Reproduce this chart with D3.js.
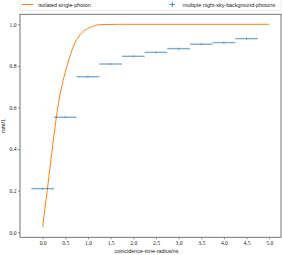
<!DOCTYPE html>
<html>
<head>
<meta charset="utf-8">
<script src="https://cdn.jsdelivr.net/npm/d3@7"></script>
<style>
  body { margin: 0; background: #fff; }
  .tick text { font-family: "Liberation Serif", serif; font-size: 5.6px; fill: #222; }
  .lbl { font-family: "Liberation Sans", "DejaVu Sans", sans-serif; font-size: 5.4px; fill: #222; }
</style>
</head>
<body>
<script>
// values
const nsbRadius = [0, 0.5, 1.0, 1.5, 2.0, 2.5, 3.0, 3.5, 4.0, 4.5];
const nsbRate = [0.21, 0.553, 0.748, 0.809, 0.846, 0.865, 0.883, 0.904, 0.912, 0.931];
const nsbHalfWidth = [0.25, 0.25, 0.25, 0.25, 0.25, 0.25, 0.25, 0.25, 0.25, 0.25];

const singleRadius = [0, 0.05, 0.1, 0.2, 0.3, 0.4, 0.5, 0.59, 0.71, 0.86, 1.0, 1.1, 1.22, 1.4, 1.7, 2.5, 5.0];
const singleRate = [0.024, 0.115, 0.2, 0.38, 0.55, 0.68, 0.77, 0.838, 0.91, 0.958, 0.98, 0.99, 0.997, 0.999, 1.0, 1.0, 1.0];

const xTicks = [0, 0.5, 1, 1.5, 2, 2.5, 3, 3.5, 4, 4.5, 5];
const yTicks = [0, 0.2, 0.4, 0.6, 0.8, 1.0];

const width = 282, height = 255;
const margin = { top: 14.3, right: 1, bottom: 17.7, left: 20 };

const svg = d3.select('body').append('svg')
  .attr('width', width)
  .attr('height', height);

const x = d3.scaleLinear().domain([-0.5, 5.26]).range([margin.left, width - margin.right]);
const y = d3.scaleLinear().domain([-0.024, 1.048]).range([height - margin.bottom, margin.top]);

// axes
const xAxis = svg.append('g')
  .attr('transform', `translate(0, ${height - margin.bottom})`)
  .call(d3.axisBottom(x).tickValues(xTicks).tickFormat(d3.format('.1f')).tickSize(2).tickPadding(1.5));
const yAxis = svg.append('g')
  .attr('transform', `translate(${margin.left}, 0)`)
  .call(d3.axisLeft(y).tickValues(yTicks).tickFormat(d3.format('.1f')).tickSize(2).tickPadding(1.5));
[xAxis, yAxis].forEach(a => {
  a.select('.domain').remove();
  a.selectAll('.tick line').attr('stroke', '#444').attr('stroke-width', 0.6);
});

// frame
svg.append('rect')
  .attr('x', margin.left).attr('y', margin.top)
  .attr('width', width - margin.right - margin.left)
  .attr('height', height - margin.bottom - margin.top)
  .attr('fill', 'none').attr('stroke', '#666').attr('stroke-width', 0.9);

// single photon curve
const line = d3.line()
  .x((d, i) => x(singleRadius[i]))
  .y(d => y(d))
  .curve(d3.curveMonotoneX);
svg.append('path')
  .attr('d', line(singleRate))
  .attr('fill', 'none')
  .attr('stroke', '#ff7f0e')
  .attr('stroke-width', 1);

// NSB error bars
const bars = svg.append('g');
bars.selectAll('.xerr')
  .data(nsbRate)
  .enter()
  .append('line')
  .attr('class', 'xerr')
  .attr('x1', (d, i) => x(nsbRadius[i] - nsbHalfWidth[i]))
  .attr('x2', (d, i) => x(nsbRadius[i] + nsbHalfWidth[i]))
  .attr('y1', d => y(d))
  .attr('y2', d => y(d))
  .attr('stroke', '#1f77b4')
  .attr('stroke-opacity', 0.6)
  .attr('stroke-width', 1.4);
bars.selectAll('.mark')
  .data(nsbRate)
  .enter()
  .append('line')
  .attr('class', 'mark')
  .attr('x1', (d, i) => x(nsbRadius[i]))
  .attr('x2', (d, i) => x(nsbRadius[i]))
  .attr('y1', d => y(d) - 1)
  .attr('y2', d => y(d) + 1)
  .attr('stroke', '#1f77b4')
  .attr('stroke-width', 0.6);

// axis labels
svg.append('text')
  .attr('class', 'lbl')
  .attr('x', (margin.left + width - margin.right) / 2 - 4)
  .attr('y', 253)
  .attr('text-anchor', 'middle')
  .text('coincidence-time-radius/ns');
svg.append('text')
  .attr('class', 'lbl')
  .attr('transform', `translate(5, ${(margin.top + height - margin.bottom) / 2}) rotate(-90)`)
  .attr('text-anchor', 'middle')
  .text('rate/1');

// legend
const legend = svg.append('g');
legend.append('rect')
  .attr('x', margin.left).attr('y', -1)
  .attr('width', width - margin.right - margin.left).attr('height', 11.5)
  .attr('rx', 1.5)
  .attr('fill', '#fff').attr('stroke', '#ddd').attr('stroke-width', 0.6);
legend.append('line')
  .attr('x1', 21.7).attr('x2', 33.3).attr('y1', 4.5).attr('y2', 4.5)
  .attr('stroke', '#ff7f0e').attr('stroke-width', 1);
legend.append('text')
  .attr('class', 'lbl')
  .attr('x', 38.3).attr('y', 6.5)
  .text('isolated single-photon');
legend.append('line')
  .attr('x1', 169.5).attr('x2', 175).attr('y1', 4.5).attr('y2', 4.5)
  .attr('stroke', '#1f77b4').attr('stroke-width', 0.8);
legend.append('line')
  .attr('x1', 172.3).attr('x2', 172.3).attr('y1', 1.8).attr('y2', 7.2)
  .attr('stroke', '#1f77b4').attr('stroke-width', 0.8);
legend.append('text')
  .attr('class', 'lbl')
  .attr('x', 182.7).attr('y', 6.5)
  .text('multiple night-sky-background-photons');
</script>
</body>
</html>
